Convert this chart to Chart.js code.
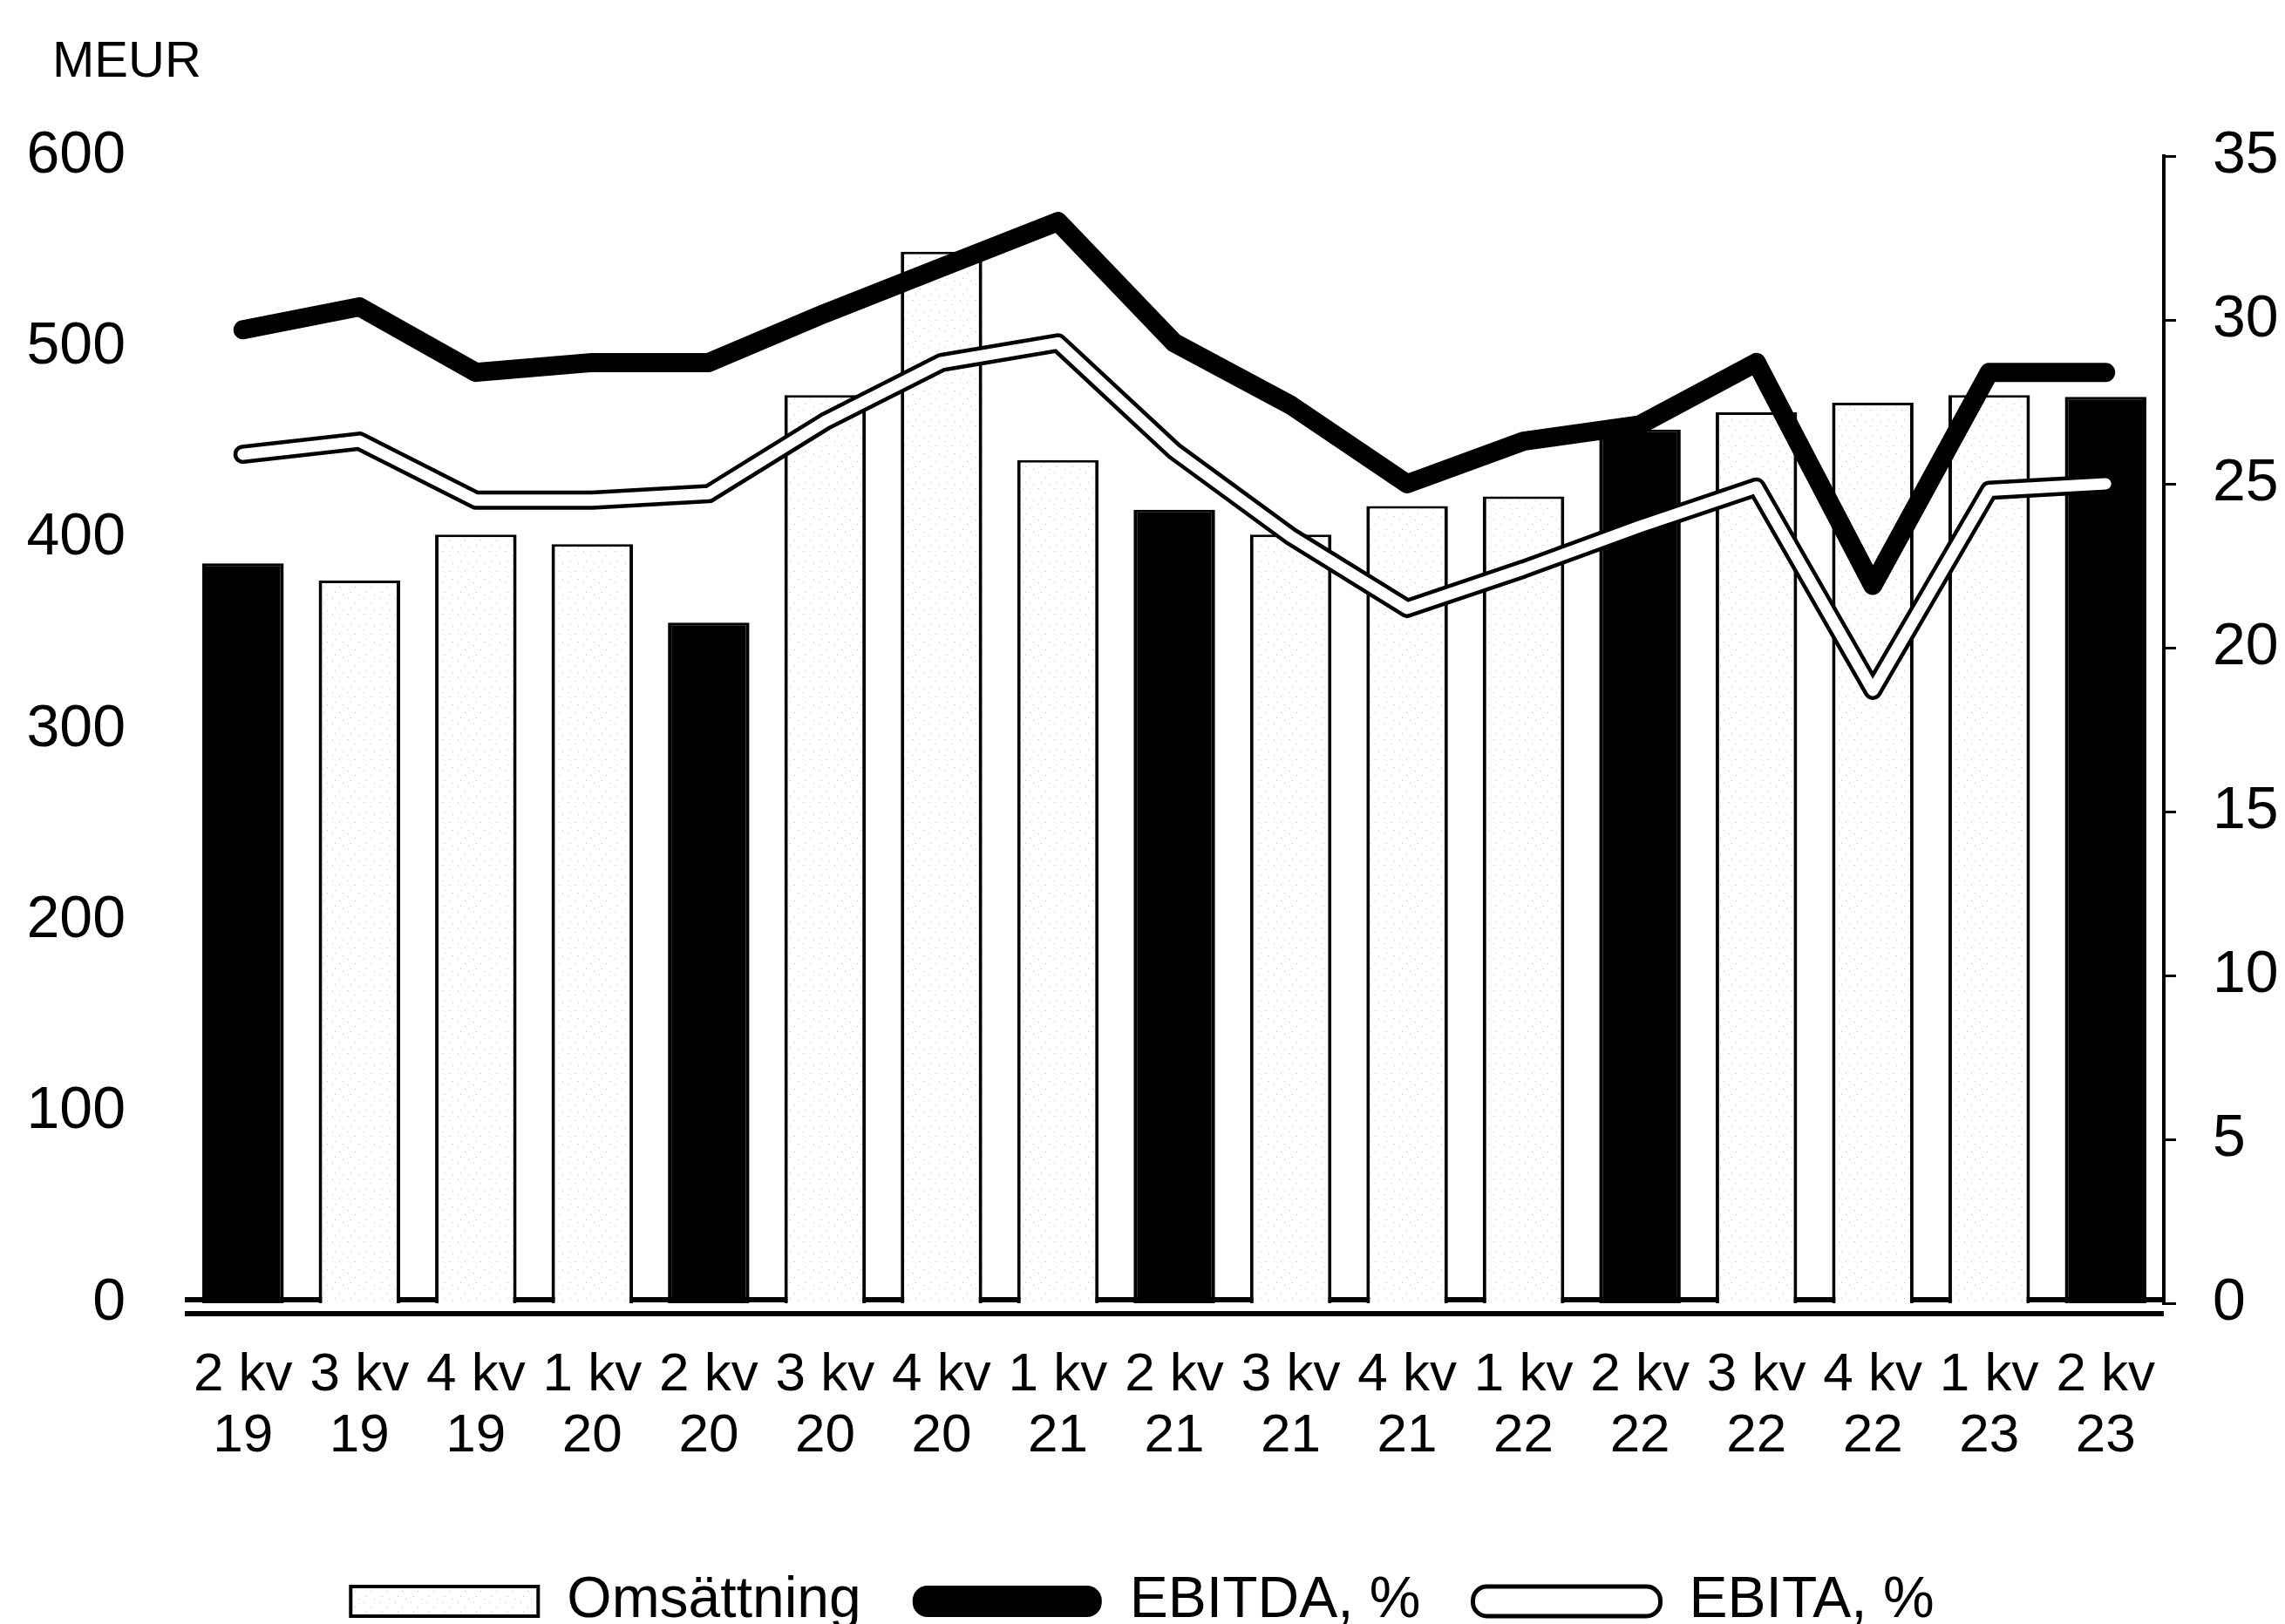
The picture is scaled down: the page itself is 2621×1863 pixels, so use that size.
<!DOCTYPE html>
<html lang="sv">
<head>
<meta charset="UTF-8">
<script src="https://cdn.jsdelivr.net/npm/chart.js"></script>
<title>Omsättning och marginaler</title>
<style>
  html, body { margin: 0; padding: 0; background: #fff; }
  #wrap { width: 2621px; height: 1863px; }
</style>
</head>
<body>
<div id="wrap"><canvas id="chart"></canvas></div>
<script>
const quarters = [
  ["2 kv", "19"], ["3 kv", "19"], ["4 kv", "19"], ["1 kv", "20"], ["2 kv", "20"],
  ["3 kv", "20"], ["4 kv", "20"], ["1 kv", "21"], ["2 kv", "21"], ["3 kv", "21"],
  ["4 kv", "21"], ["1 kv", "22"], ["2 kv", "22"], ["3 kv", "22"], ["4 kv", "22"],
  ["1 kv", "23"], ["2 kv", "23"]
];
const omsattning = [387, 378, 402, 397, 356, 475, 550, 441, 415, 402, 417, 422, 457, 466, 471, 475, 474];
const ebitdaPct = [29.7, 30.4, 28.4, 28.7, 28.7, 30.2, 31.6, 33.0, 29.3, 27.4, 25.0, 26.3, 26.8, 28.7, 21.9, 28.4, 28.4];
const ebitaPct = [25.9, 26.3, 24.5, 24.5, 24.7, 26.9, 28.7, 29.3, 26.0, 23.4, 21.2, 22.4, 23.7, 24.9, 18.7, 24.8, 25.0];
const leftTicks = [0, 100, 200, 300, 400, 500, 600];
const rightTicks = [0, 5, 10, 15, 20, 25, 30, 35];

const FONT = "'Liberation Sans', Arial, sans-serif";

// light speckled fill, like the scanned bars
function speckle() {
  const c = document.createElement("canvas");
  c.width = 18; c.height = 18;
  const g = c.getContext("2d");
  g.fillStyle = "#ffffff";
  g.fillRect(0, 0, 18, 18);
  g.fillStyle = "#bdbdbd";
  g.fillRect(3, 2, 1, 1);
  g.fillRect(11, 7, 1, 1);
  g.fillRect(6, 13, 1, 1);
  g.fillRect(15, 16, 1, 1);
  return g.createPattern(c, "repeat");
}
const barFill = speckle();
const isSecondQ = i => quarters[i][0].startsWith("2");

const baseLines = {
  id: "baseLines",
  beforeDatasetsDraw(chart) {
    const { ctx, chartArea } = chart;
    ctx.save();
    ctx.strokeStyle = "#000";
    ctx.lineWidth = 6;
    [chartArea.bottom - 4, chartArea.bottom + 12].forEach(y => {
      ctx.beginPath();
      ctx.moveTo(chartArea.left, y);
      ctx.lineTo(chartArea.right, y);
      ctx.stroke();
    });
    ctx.restore();
  }
};

const unitLabel = {
  id: "unitLabel",
  afterDraw(chart) {
    const ctx = chart.ctx;
    ctx.save();
    ctx.fillStyle = "#000";
    ctx.font = "58px " + FONT;
    ctx.textBaseline = "middle";
    ctx.fillText("MEUR", 60, 72);
    ctx.restore();
  }
};

new Chart(document.getElementById("chart"), {
  data: {
    labels: quarters,
    datasets: [
      {
        type: "line",
        label: "EBITDA, %",
        data: ebitdaPct,
        yAxisID: "y1",
        borderColor: "#000",
        borderWidth: 22,
        pointRadius: 0,
        tension: 0,
        borderJoinStyle: "round",
        borderCapStyle: "round",
        order: 0
      },
      {
        type: "line",
        label: "EBITA, %",
        data: ebitaPct,
        yAxisID: "y1",
        borderColor: "#000",
        borderWidth: 22,
        pointRadius: 0,
        tension: 0,
        borderJoinStyle: "round",
        borderCapStyle: "round",
        order: 2
      },
      {
        type: "line",
        label: "EBITA inner",
        data: ebitaPct,
        yAxisID: "y1",
        borderColor: "#fff",
        borderWidth: 13,
        pointRadius: 0,
        tension: 0,
        borderJoinStyle: "round",
        borderCapStyle: "round",
        order: 1
      },
      {
        type: "bar",
        label: "Omsättning",
        data: omsattning,
        yAxisID: "y",
        backgroundColor: c => isSecondQ(c.dataIndex) ? "#000" : barFill,
        borderColor: "#000",
        borderWidth: { top: 3, left: 4, right: 4, bottom: 0 },
        borderSkipped: "bottom",
        barPercentage: 0.7,
        categoryPercentage: 1,
        order: 3
      }
    ]
  },
  options: {
    responsive: true,
    maintainAspectRatio: false,
    devicePixelRatio: 1,
    animation: false,
    layout: { padding: { top: 179, left: 0, right: 0, bottom: -17 } },
    plugins: {
      tooltip: { enabled: false },
      legend: {
        position: "bottom",
        labels: {
          color: "#000",
          font: { family: FONT, size: 66 },
          boxWidth: 215,
          boxHeight: 34,
          padding: 60,
          useBorderRadius: true,
          generateLabels: () => [
            { text: "Omsättning", fillStyle: barFill, strokeStyle: "#000", lineWidth: 4, datasetIndex: 3, borderRadius: 0 },
            { text: "EBITDA, %", fillStyle: "#000", strokeStyle: "#000", lineWidth: 2, datasetIndex: 0, borderRadius: 16 },
            { text: "EBITA, %", fillStyle: "#fff", strokeStyle: "#000", lineWidth: 5, datasetIndex: 1, borderRadius: 16 }
          ]
        }
      }
    },
    scales: {
      x: {
        grid: { display: false },
        border: { display: false },
        ticks: {
          color: "#000",
          font: { family: FONT, size: 62, lineHeight: 1.13 },
          padding: 40,
          maxRotation: 0,
          autoSkip: false
        },
        afterFit: s => { s.height = 249; }
      },
      y: {
        position: "left",
        min: 0,
        max: 600,
        grid: { display: false },
        border: { display: false },
        afterBuildTicks: s => { s.ticks = leftTicks.map(v => ({ value: v })); },
        ticks: {
          color: "#000",
          font: { family: FONT, size: 68 },
          padding: 60
        },
        afterFit: s => { s.width = 212; }
      },
      y1: {
        position: "right",
        min: 0,
        max: 35,
        grid: { display: true, drawOnChartArea: false, drawTicks: true, tickLength: 14, color: "#000", lineWidth: 3 },
        border: { display: true, color: "#000", width: 4 },
        afterBuildTicks: s => { s.ticks = rightTicks.map(v => ({ value: v })); },
        ticks: {
          color: "#000",
          font: { family: FONT, size: 68 },
          padding: 42
        },
        afterFit: s => { s.width = 139; }
      }
    }
  },
  plugins: [baseLines, unitLabel]
});
</script>
</body>
</html>
